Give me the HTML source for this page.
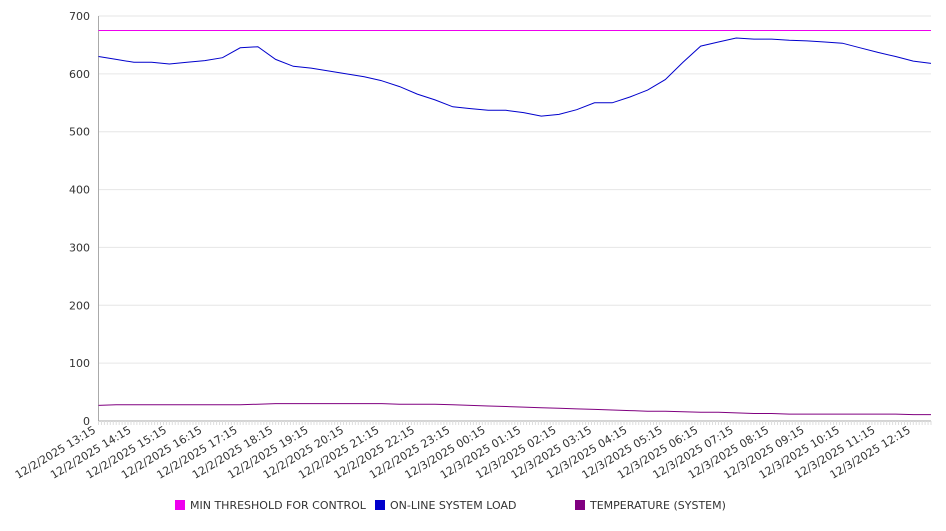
<!DOCTYPE html>
<html><head><meta charset="utf-8"><style>
body{margin:0;background:#fff;}
svg text{font-family:"DejaVu Sans","Liberation Sans",sans-serif;font-size:11px;fill:#333;}
</style></head><body>
<svg id="chart" width="946" height="526" xmlns="http://www.w3.org/2000/svg"></svg>
<script>
const yTicks=[0,100,200,300,400,500,600,700];
const threshold=675;
const loadValues=[630,625,620,620,617,620,623,628,645,647,625,613,610,605,600,595,588,578,565,555,543,540,537,537,533,527,530,538,550,550,560,572,590,620,648,655,662,660,660,658,657,655,653,645,637,630,622,618];
const tempValues=[27,28,28,28,28,28,28,28,28,29,30,30,30,30,30,30,30,29,29,29,28,27,26,25,24,23,22,21,20,19,18,17,17,16,15,15,14,13,13,12,12,12,12,12,12,12,11,11];
const xLabels=["12/2/2025 13:15","12/2/2025 14:15","12/2/2025 15:15","12/2/2025 16:15","12/2/2025 17:15","12/2/2025 18:15","12/2/2025 19:15","12/2/2025 20:15","12/2/2025 21:15","12/2/2025 22:15","12/2/2025 23:15","12/3/2025 00:15","12/3/2025 01:15","12/3/2025 02:15","12/3/2025 03:15","12/3/2025 04:15","12/3/2025 05:15","12/3/2025 06:15","12/3/2025 07:15","12/3/2025 08:15","12/3/2025 09:15","12/3/2025 10:15","12/3/2025 11:15","12/3/2025 12:15"];
const legendNames=["MIN THRESHOLD FOR CONTROL","ON-LINE SYSTEM LOAD","TEMPERATURE (SYSTEM)"];
const colors=["#ee00ee","#0000cc","#800080"];
const svg=document.getElementById('chart');
const NS="http://www.w3.org/2000/svg";
const L=98.5,R=931,T=16,B=421;
const totalMin=(loadValues.length-1)*30;
function x(min){return L+(R-L)*min/totalMin;}
function y(v){return B-(B-T)*v/700;}
function mk(tag,attrs){const e=document.createElementNS(NS,tag);for(const k in attrs)e.setAttribute(k,attrs[k]);svg.appendChild(e);return e;}
yTicks.forEach(t=>{
  const g=mk('line',{x1:L,x2:R,y1:y(t),y2:y(t),stroke:t===0?'#aaa':'#e6e6e6'});
  
  
  const tx=mk('text',{x:90,y:y(t)+4,'text-anchor':'end'});tx.textContent=t;
  
  
});
const ax=mk('line',{x1:L,x2:L,y1:T,y2:B,stroke:'#aaa'});


for(let m=0;m<=totalMin;m+=5){
  const tk=mk('line',{x1:x(m),x2:x(m),y1:B,y2:B+4,stroke:'#ddd'});
  
  
}
xLabels.forEach((lab,i)=>{
  const px=x(i*60)-2,py=432;
  const tx=mk('text',{x:px,y:py,'text-anchor':'end',transform:`rotate(-31 ${px} ${py})`});
  tx.textContent=lab;
  
  
});
const th=mk('line',{x1:L,x2:R,y1:y(threshold),y2:y(threshold),stroke:colors[0],'stroke-width':1});


function series(vals,col,name){
  const d=vals.map((v,i)=>(i?'L':'M')+x(i*30).toFixed(1)+' '+y(v).toFixed(1)).join(' ');
  const p=mk('path',{d:d,fill:'none',stroke:col,'stroke-width':1});
  
  
}
series(loadValues,colors[1],'load-line');
series(tempValues,colors[2],'temperature-line');
const lx=[175,375,575];
legendNames.forEach((n,i)=>{
  const r=mk('rect',{x:lx[i],y:500,width:10,height:10,fill:colors[i]});
  
  
  const t=mk('text',{x:lx[i]+15,y:509});t.textContent=n;
  
  
});
</script>
</body></html>
